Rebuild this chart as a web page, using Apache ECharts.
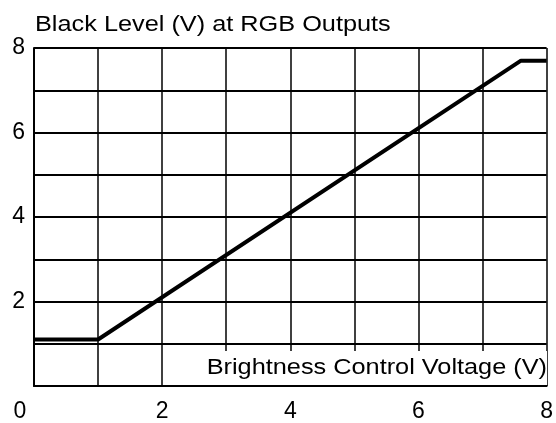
<!DOCTYPE html>
<html>
<head>
<meta charset="utf-8">
<script src="https://cdn.jsdelivr.net/npm/echarts@6/dist/echarts.min.js"></script>
<style>
  html, body { margin: 0; padding: 0; background: #fff; }
  #chart { width: 556px; height: 423px; }
</style>
</head>
<body>
<div id="chart"></div>
<script>
// brightness control voltage (V) vs black level (V)
const xValues = [0, 1, 7.6, 8]
const blackLevel = [1.1, 1.1, 7.7, 7.7]
const tickLabels = ['0', '2', '4', '6', '8']

const FONT = '"Liberation Sans", Arial, sans-serif'
const STRETCH = 1.15 // the original lettering is a bit wider than Arial

const chart = echarts.init(document.getElementById('chart'), null, { renderer: 'canvas' })

function evenLabel(v) {
  const s = String(v)
  return tickLabels.indexOf(s) >= 0 ? s : ''
}

chart.setOption({
  animation: false,
  backgroundColor: '#fff',
  grid: { left: 34, right: 7, top: 48, bottom: 31 },
  xAxis: {
    type: 'value',
    min: 0,
    max: 8,
    interval: 1,
    axisLine: { show: true, lineStyle: { color: '#000', width: 2 } },
    axisTick: { show: false },
    axisLabel: {
      margin: 14,
      fontFamily: FONT,
      fontSize: 23,
      color: '#000',
      formatter: v => v === 0 ? '{z|0}' : evenLabel(v),
      rich: { z: { fontFamily: FONT, fontSize: 23, color: '#000', padding: [0, 28, 0, 0] } }
    },
    splitLine: { show: true, lineStyle: { color: '#000', width: 1.5 } }
  },
  yAxis: {
    type: 'value',
    min: 0,
    max: 8,
    interval: 1,
    axisLine: { show: true, lineStyle: { color: '#000', width: 2 } },
    axisTick: { show: false },
    axisLabel: {
      margin: 9,
      fontFamily: FONT,
      fontSize: 23,
      color: '#000',
      formatter: v => v === 0 ? '' : evenLabel(v)
    },
    splitLine: { show: true, lineStyle: { color: '#000', width: 2 } }
  },
  graphic: [
    {
      type: 'text',
      z: 101,
      x: 35,
      y: 25,
      scaleX: STRETCH,
      style: {
        text: 'Black Level (V) at RGB Outputs',
        fontFamily: FONT,
        fontSize: 22,
        fill: '#000',
        align: 'left',
        verticalAlign: 'middle'
      }
    },
    {
      type: 'rect',
      z: 100,
      shape: { x: 199, y: 351, width: 348, height: 34 },
      style: { fill: '#fff' }
    },
    {
      type: 'text',
      z: 101,
      x: 547,
      y: 368,
      scaleX: STRETCH,
      style: {
        text: 'Brightness Control Voltage (V)',
        fontFamily: FONT,
        fontSize: 22,
        fill: '#000',
        align: 'right',
        verticalAlign: 'middle'
      }
    }
  ],
  series: [
    {
      type: 'line',
      data: xValues.map((x, i) => [x, blackLevel[i]]),
      showSymbol: false,
      lineStyle: { color: '#000', width: 4 },
      z: 5
    }
  ]
})

window.addEventListener('resize', () => chart.resize())
</script>
</body>
</html>
